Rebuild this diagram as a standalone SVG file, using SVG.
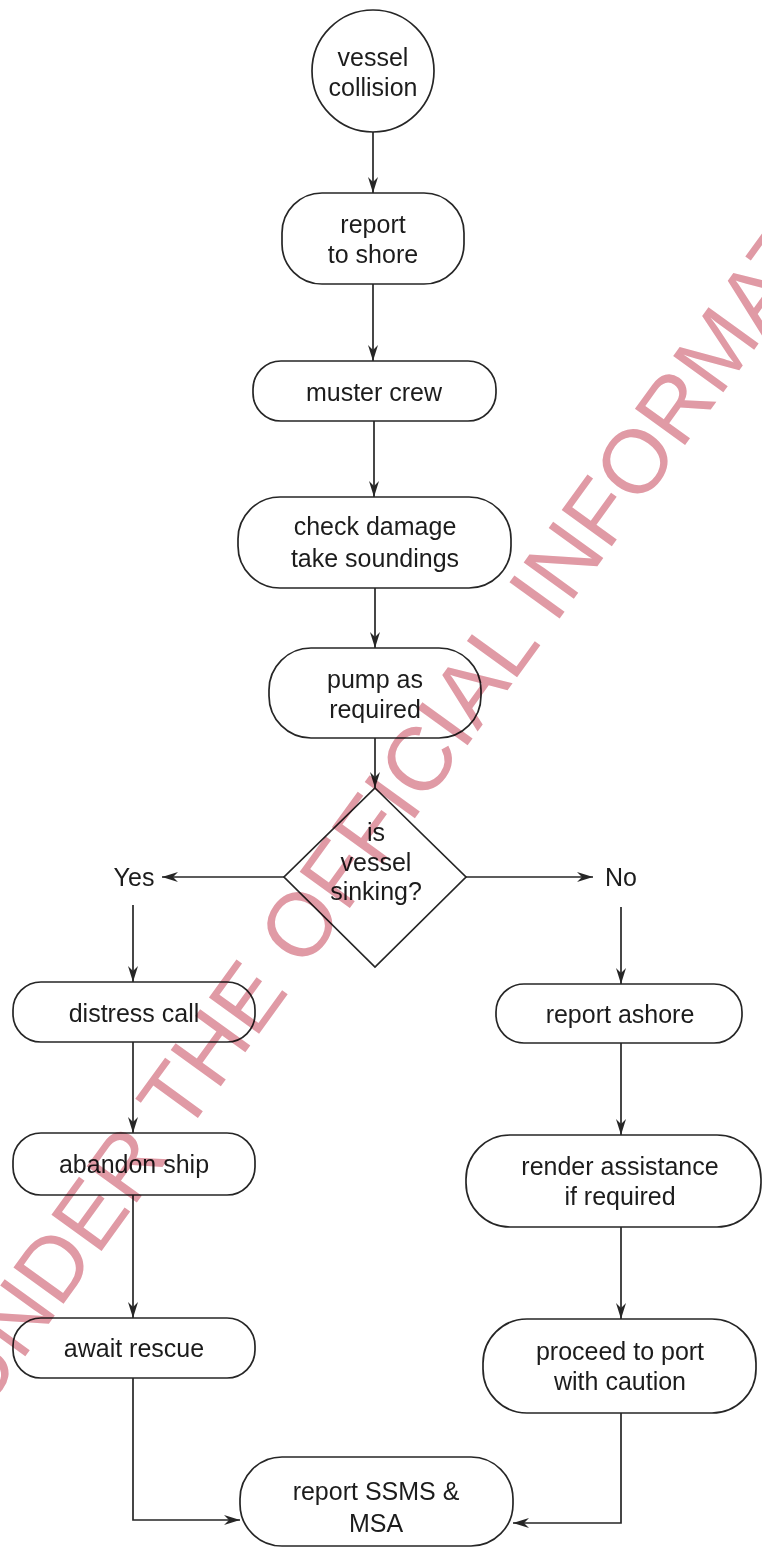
<svg xmlns="http://www.w3.org/2000/svg" width="762" height="1549" viewBox="0 0 762 1549">
  <style>
    .box { fill: #ffffff; stroke: #262626; stroke-width: 1.7; }
    .lbl { font-family: "Liberation Sans", Arial, sans-serif; font-size: 25px; fill: #1c1c1c; text-anchor: middle; }
    .edge { fill: none; stroke: #262626; stroke-width: 1.7; }
    .stamp { font-family: "Liberation Sans", Arial, sans-serif; font-size: 90px; fill: #e09aa5; mix-blend-mode: multiply; }
  </style>
  <defs>
    <marker id="arrow" viewBox="0 0 16 10" refX="16" refY="5" markerWidth="16" markerHeight="10" markerUnits="userSpaceOnUse" orient="auto">
      <path d="M0,0 L16,5 L0,10 L5,5 Z" fill="#262626"/>
    </marker>
  </defs>
  <rect width="762" height="1549" fill="#ffffff"/>

  <!-- connectors -->
  <g id="connectors">
    <line class="edge" x1="373" y1="132" x2="373" y2="193" marker-end="url(#arrow)"/>
    <line class="edge" x1="373" y1="284" x2="373" y2="361" marker-end="url(#arrow)"/>
    <line class="edge" x1="374" y1="421" x2="374" y2="497" marker-end="url(#arrow)"/>
    <line class="edge" x1="375" y1="588" x2="375" y2="648" marker-end="url(#arrow)"/>
    <line class="edge" x1="375" y1="738" x2="375" y2="788" marker-end="url(#arrow)"/>
    <line class="edge" x1="284" y1="877" x2="162" y2="877" marker-end="url(#arrow)"/>
    <line class="edge" x1="466" y1="877" x2="593" y2="877" marker-end="url(#arrow)"/>
    <line class="edge" x1="133" y1="905" x2="133" y2="982" marker-end="url(#arrow)"/>
    <line class="edge" x1="621" y1="907" x2="621" y2="984" marker-end="url(#arrow)"/>
    <line class="edge" x1="133" y1="1042" x2="133" y2="1133" marker-end="url(#arrow)"/>
    <line class="edge" x1="133" y1="1195" x2="133" y2="1318" marker-end="url(#arrow)"/>
    <line class="edge" x1="621" y1="1043" x2="621" y2="1135" marker-end="url(#arrow)"/>
    <line class="edge" x1="621" y1="1227" x2="621" y2="1319" marker-end="url(#arrow)"/>
    <path class="edge" d="M133,1378 V1520 H240" marker-end="url(#arrow)"/>
    <path class="edge" d="M621,1413 V1523 H513" marker-end="url(#arrow)"/>
  </g>

  <!-- nodes -->
  <g id="vessel-collision">
    <circle class="box" cx="373" cy="71" r="61"/>
    <text class="lbl" x="373" y="66">vessel</text>
    <text class="lbl" x="373" y="96">collision</text>
  </g>
  <g id="report-to-shore">
    <rect class="box" x="282" y="193" width="182" height="91" rx="40"/>
    <text class="lbl" x="373" y="233">report</text>
    <text class="lbl" x="373" y="263">to shore</text>
  </g>
  <g id="muster-crew">
    <rect class="box" x="253" y="361" width="243" height="60" rx="28"/>
    <text class="lbl" x="374" y="401">muster crew</text>
  </g>
  <g id="check-damage">
    <rect class="box" x="238" y="497" width="273" height="91" rx="42"/>
    <text class="lbl" x="375" y="535">check damage</text>
    <text class="lbl" x="375" y="567">take soundings</text>
  </g>
  <g id="pump">
    <rect class="box" x="269" y="648" width="212" height="90" rx="42"/>
    <text class="lbl" x="375" y="688">pump as</text>
    <text class="lbl" x="375" y="718">required</text>
  </g>
  <g id="is-sinking">
    <polygon class="box" points="375,788 466,877 375,967 284,877"/>
    <text class="lbl" x="376" y="841">is</text>
    <text class="lbl" x="376" y="871">vessel</text>
    <text class="lbl" x="376" y="900">sinking?</text>
  </g>
  <g id="yes-label">
    <text class="lbl" x="134" y="886">Yes</text>
  </g>
  <g id="no-label">
    <text class="lbl" x="621" y="886">No</text>
  </g>
  <g id="distress-call">
    <rect class="box" x="13" y="982" width="242" height="60" rx="28"/>
    <text class="lbl" x="134" y="1022">distress call</text>
  </g>
  <g id="abandon-ship">
    <rect class="box" x="13" y="1133" width="242" height="62" rx="28"/>
    <text class="lbl" x="134" y="1173">abandon ship</text>
  </g>
  <g id="await-rescue">
    <rect class="box" x="13" y="1318" width="242" height="60" rx="28"/>
    <text class="lbl" x="134" y="1357">await rescue</text>
  </g>
  <g id="report-ashore">
    <rect class="box" x="496" y="984" width="246" height="59" rx="28"/>
    <text class="lbl" x="620" y="1023">report ashore</text>
  </g>
  <g id="render-assistance">
    <rect class="box" x="466" y="1135" width="295" height="92" rx="44"/>
    <text class="lbl" x="620" y="1175">render assistance</text>
    <text class="lbl" x="620" y="1205">if required</text>
  </g>
  <g id="proceed-to-port">
    <rect class="box" x="483" y="1319" width="273" height="94" rx="44"/>
    <text class="lbl" x="620" y="1360">proceed to port</text>
    <text class="lbl" x="620" y="1390">with caution</text>
  </g>
  <g id="report-ssms">
    <rect class="box" x="240" y="1457" width="273" height="89" rx="42"/>
    <text class="lbl" x="376" y="1500">report SSMS &amp;</text>
    <text class="lbl" x="376" y="1532">MSA</text>
  </g>

  <!-- release stamp across the sheet -->
  <g id="stamp">
    <text class="stamp" transform="translate(-17,1415) rotate(-54.1)">UNDER THE OFFICIAL INFORMAT</text>
  </g>
</svg>
